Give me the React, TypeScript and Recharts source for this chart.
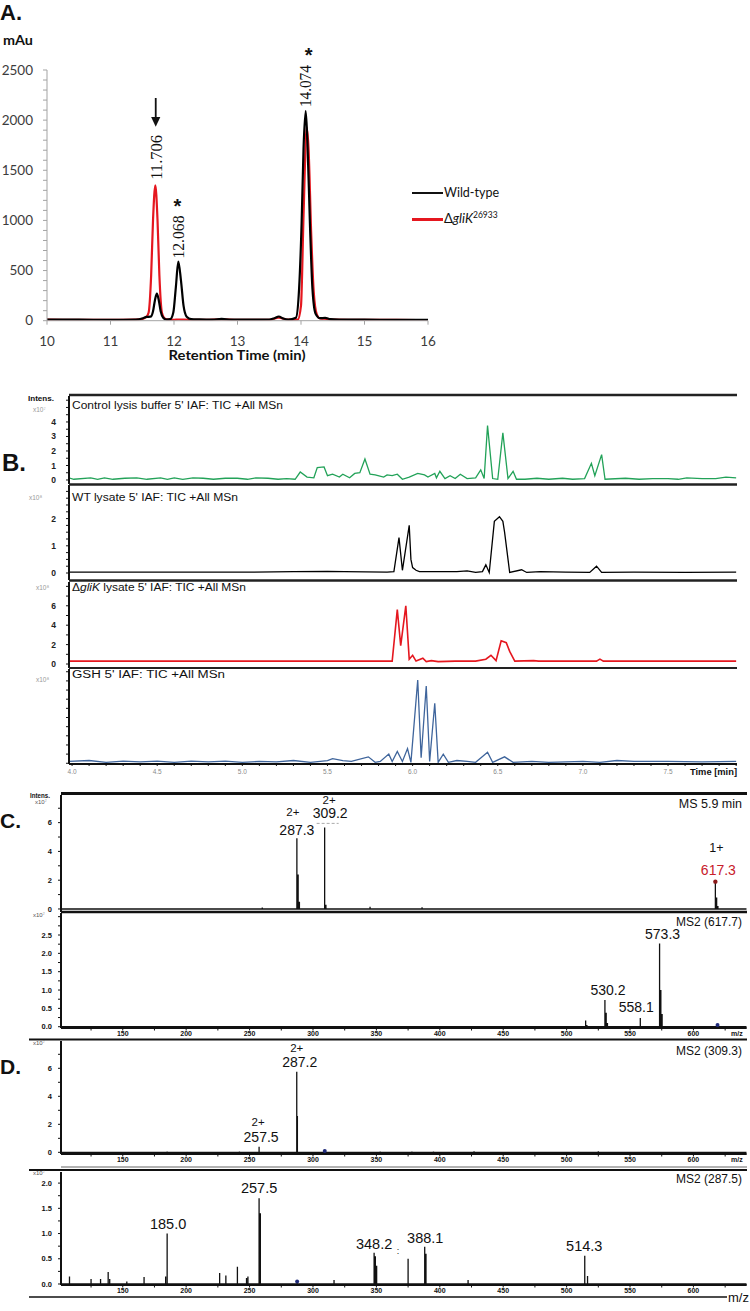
import React from 'react';
import { LineChart, Line, XAxis, YAxis, ReferenceDot, Legend } from 'recharts';

const SANS = '"Liberation Sans", Arial, sans-serif';
const CAL = 'Lato, "Open Sans", sans-serif';
const SERIF = '"Liberation Serif", "Times New Roman", serif';
const RED = '#e5171f';
const GREEN = '#22a258';
const BLUE = '#3f659c';
const INK = '#111';

// A. HPLC trace, mAu vs retention time (min)
const hplcTimeWT = [10.0, 10.5, 11.0, 11.4, 11.5, 11.57, 11.63, 11.67, 11.7, 11.73, 11.76, 11.79, 11.83, 11.88, 11.94, 11.99, 12.03, 12.068, 12.11, 12.15, 12.2, 12.27, 12.4, 12.6, 12.75, 12.9, 13.2, 13.5, 13.58, 13.65, 13.72, 13.8, 13.92, 13.97, 14.01, 14.04, 14.074, 14.1, 14.14, 14.18, 14.23, 14.3, 14.38, 14.46, 14.6, 15.0, 15.5, 16.0];
const hplcWT = [12, 10, 9, 12, 22, 38, 40, 95, 205, 270, 205, 95, 30, 12, 15, 85, 340, 590, 400, 150, 40, 16, 13, 11, 18, 11, 10, 12, 25, 42, 22, 12, 30, 320, 980, 1720, 2090, 1800, 980, 320, 70, 25, 28, 16, 12, 10, 9, 8];
const hplcTimeKO = [10.0, 10.5, 11.0, 11.4, 11.5, 11.56, 11.6, 11.64, 11.67, 11.706, 11.74, 11.77, 11.81, 11.86, 11.92, 12.0, 12.07, 12.15, 12.3, 12.5, 12.75, 13.0, 13.5, 13.65, 13.8, 13.95, 14.0, 14.04, 14.09, 14.12, 14.16, 14.2, 14.25, 14.3, 14.4, 14.5, 15.0, 15.5, 16.0];
const hplcKO = [10, 9, 8, 10, 18, 35, 80, 450, 1010, 1350, 1010, 450, 80, 20, 10, 9, 12, 10, 9, 8, 14, 8, 9, 30, 10, 12, 150, 1050, 1930, 1700, 880, 290, 60, 22, 18, 12, 8, 8, 6];
const hplcXTicks = [10, 11, 12, 13, 14, 15, 16];
const hplcYTicks = [0, 100, 200, 300, 400, 500, 600, 700, 800, 900, 1000, 1100, 1200, 1300, 1400, 1500, 1600, 1700, 1800, 1900, 2000, 2100, 2200, 2300, 2400, 2500];
const hplcYLabels = [0, 500, 1000, 1500, 2000, 2500];

// B. TIC traces, time (min)
const ctrlTime = [3.98, 4.01, 4.11, 4.15, 4.19, 4.24, 4.31, 4.38, 4.44, 4.52, 4.56, 4.6, 4.65, 4.71, 4.77, 4.83, 4.9, 4.97, 5.03, 5.08, 5.15, 5.21, 5.26, 5.31, 5.34, 5.38, 5.42, 5.44, 5.48, 5.5, 5.53, 5.57, 5.59, 5.63, 5.66, 5.69, 5.72, 5.75, 5.78, 5.83, 5.85, 5.88, 5.91, 5.94, 5.98, 6.03, 6.07, 6.09, 6.13, 6.14, 6.16, 6.19, 6.22, 6.25, 6.28, 6.32, 6.37, 6.4, 6.42, 6.44, 6.47, 6.5, 6.53, 6.56, 6.59, 6.61, 6.66, 6.73, 6.8, 6.88, 6.94, 7.01, 7.05, 7.07, 7.11, 7.13, 7.25, 7.33, 7.41, 7.5, 7.56, 7.61, 7.7, 7.78, 7.84, 7.9];
const ctrlTic = [0.15, 0.05, 0.15, 0.05, 0.15, 0.05, 0.12, 0.15, 0.05, 0.15, 0.05, 0.15, 0.05, 0.15, 0.12, 0.05, 0.12, 0.12, 0.05, 0.15, 0.12, 0.05, 0.1, 0.05, 0.55, 0.2, 0.15, 0.85, 0.9, 0.3, 0.4, 0.2, 0.4, 0.15, 0.45, 0.5, 1.45, 0.4, 0.35, 0.2, 0.35, 0.3, 0.4, 0.05, 0.2, 0.45, 0.35, 0.2, 0.45, 0.15, 0.6, 0.1, 0.3, 0.1, 0.4, 0.1, 0.15, 0.7, 0.1, 3.75, 0.1, 0.05, 3.25, 0.1, 0.6, 0.05, 0.05, 0.12, 0.05, 0.12, 0.05, 0.1, 1.15, 0.3, 1.75, 0.05, 0.12, 0.05, 0.1, 0.1, 0.05, 0.15, 0.1, 0.1, 0.2, 0.15];
const wtTime = [3.98, 4.5, 5.0, 5.3, 5.5, 5.6, 5.85, 5.89, 5.92, 5.94, 5.98, 5.99, 6.0, 6.02, 6.04, 6.09, 6.18, 6.26, 6.32, 6.37, 6.41, 6.43, 6.45, 6.48, 6.51, 6.53, 6.54, 6.57, 6.64, 6.67, 6.75, 6.9, 7.04, 7.08, 7.11, 7.3, 7.6, 7.9];
const wtTic = [0.03, 0.03, 0.03, 0.05, 0.06, 0.05, 0.03, 0.05, 1.3, 0.1, 1.75, 0.5, 0.2, 0.1, 0.05, 0.05, 0.05, 0.05, 0.08, 0.02, 0.05, 0.3, 0.02, 1.9, 2.07, 1.9, 1.5, 0.02, 0.12, 0.02, 0.05, 0.03, 0.02, 0.25, 0.02, 0.03, 0.02, 0.03];
const koTime = [3.98, 5.0, 5.85, 5.88, 5.91, 5.93, 5.96, 5.98, 6.0, 6.02, 6.06, 6.08, 6.11, 6.15, 6.25, 6.37, 6.43, 6.46, 6.49, 6.52, 6.55, 6.57, 6.6, 6.71, 6.74, 6.9, 7.08, 7.1, 7.12, 7.5, 7.9];
const koTic = [0.3, 0.3, 0.3, 0.3, 5.6, 1.9, 6.0, 0.5, 0.9, 0.3, 0.6, 0.25, 0.35, 0.25, 0.3, 0.3, 0.5, 0.9, 0.35, 2.4, 2.2, 1.3, 0.3, 0.35, 0.3, 0.3, 0.3, 0.5, 0.3, 0.3, 0.3];
const gshTime = [3.98, 4.1, 4.2, 4.3, 4.4, 4.5, 4.6, 4.7, 4.8, 4.9, 5.0, 5.1, 5.2, 5.3, 5.4, 5.5, 5.53, 5.59, 5.64, 5.74, 5.78, 5.81, 5.86, 5.88, 5.91, 5.94, 5.97, 5.99, 6.03, 6.05, 6.08, 6.1, 6.13, 6.15, 6.18, 6.21, 6.26, 6.32, 6.37, 6.44, 6.47, 6.54, 6.59, 6.7, 6.8, 7.0, 7.1, 7.2, 7.3, 7.5, 7.7, 7.9];
const gshTic = [0.1, 0.15, 0.05, 0.12, 0.08, 0.12, 0.05, 0.12, 0.08, 0.12, 0.05, 0.1, 0.08, 0.15, 0.05, 0.15, 0.25, 0.15, 0.1, 0.35, 0.05, 0.1, 0.5, 0.1, 0.65, 0.1, 0.8, 0.05, 4.55, 0.3, 4.22, 0.1, 3.28, 0.05, 0.5, 0.05, 0.15, 0.1, 0.05, 0.6, 0.05, 0.35, 0.05, 0.1, 0.05, 0.1, 0.05, 0.15, 0.1, 0.1, 0.08, 0.1];
const TIME_DOMAIN = [3.982, 7.905];
const timeTicks = [4.0, 4.1, 4.2, 4.3, 4.4, 4.5, 4.6, 4.7, 4.8, 4.9, 5.0, 5.1, 5.2, 5.3, 5.4, 5.5, 5.6, 5.7, 5.8, 5.9, 6.0, 6.1, 6.2, 6.3, 6.4, 6.5, 6.6, 6.7, 6.8, 6.9, 7.0, 7.1, 7.2, 7.3, 7.4, 7.5, 7.6, 7.7, 7.8, 7.9];
const timeLabels = [4.0, 4.5, 5.0, 5.5, 6.0, 6.5, 7.0, 7.5];

// C/D. mass spectra, m/z vs intensity (x10^7)
const ms59Mz = [260, 287.3, 288.3, 289.3, 309.2, 310.2, 345, 386, 617.3, 618.3, 619.3];
const ms59Int = [0.1, 4.91, 2.4, 0.5, 5.67, 0.3, 0.15, 0.12, 1.9, 0.8, 0.2];
const ms617Mz = [515, 516, 530.2, 531.2, 532.2, 558.1, 573.3, 574.3, 575.3, 619];
const ms617Int = [0.17, 0.05, 0.73, 0.38, 0.1, 0.24, 2.27, 1.0, 0.35, 0.05];
const ms309Mz = [185, 242, 257.5, 287.2, 287.7, 309.3, 353, 378, 395, 427, 525];
const ms309Int = [0.05, 0.05, 0.4, 5.75, 2.6, 0.1, 0.06, 0.05, 0.05, 0.08, 0.08];
const ms287Mz = [108, 125, 132.5, 138.5, 139.7, 153.2, 166.8, 183.8, 185.0, 226.4, 231.3, 240.4, 247.6, 248.7, 257.5, 258.5, 287.5, 316.6, 348.2, 349.2, 350.2, 375, 388.1, 389.1, 422.3, 514.3, 516.5];
const ms287Int = [0.15, 0.1, 0.1, 0.24, 0.1, 0.05, 0.14, 0.15, 1.0, 0.22, 0.17, 0.34, 0.12, 0.15, 1.7, 1.4, 0.05, 0.08, 0.62, 0.55, 0.36, 0.5, 0.74, 0.6, 0.08, 0.56, 0.16];
const MZ_DOMAIN = [101.3, 642];
const mzTicks = [125, 150, 175, 200, 225, 250, 275, 300, 325, 350, 375, 400, 425, 450, 475, 500, 525, 550, 575, 600, 625];
const mzLabels = [150, 200, 250, 300, 350, 400, 450, 500, 550, 600];

const rowsOf = (xs: number[], ys: number[]) => xs.map((t, k) => ({ t, v: ys[k] }));
const sticks = (mz: number[], ints: number[]) => {
  const rows: { mz: number; i: number }[] = [{ mz: MZ_DOMAIN[0], i: 0 }];
  mz.forEach((m, k) => rows.push({ mz: m, i: 0 }, { mz: m, i: ints[k] }, { mz: m, i: 0 }));
  rows.push({ mz: MZ_DOMAIN[1], i: 0 });
  return rows;
};

type Tag = {
  t: React.ReactNode;
  dx: number;
  dy: number;
  size?: number;
  font?: string;
  fill?: string;
  rot?: boolean;
  w?: number;
  bold?: boolean;
};

// label renderer for ReferenceDot: offsets are relative to the dot
const tagLayer = (list: Tag[], extra?: (x: number, y: number) => React.ReactNode) => (props: any) => {
  const vb = props.viewBox || {};
  const x = Number(vb.x ?? 0);
  const y = Number(vb.y ?? 0);
  return (
    <g>
      {list.map((g, k) => {
        const px = x + g.dx;
        const py = y + g.dy;
        return (
          <text
            key={k}
            x={px}
            y={py}
            textAnchor="middle"
            dominantBaseline="central"
            fontSize={g.size ?? 14}
            fontFamily={g.font ?? SANS}
            fontWeight={g.bold ? 'bold' : 'normal'}
            fill={g.fill ?? INK}
            transform={g.rot ? `rotate(-90 ${px} ${py})` : undefined}
            textLength={g.w}
            lengthAdjust={g.w ? 'spacingAndGlyphs' : undefined}
          >
            {g.t}
          </text>
        );
      })}
      {extra ? extra(x, y) : null}
    </g>
  );
};

const note = (x: number, y: number, list: Tag[], extra?: (x: number, y: number) => React.ReactNode) => (
  <ReferenceDot x={x} y={y} r={0} fill="none" stroke="none" ifOverflow="visible" label={tagLayer(list, extra)} />
);

const hplcLegend = () => (
  <div style={{ fontFamily: CAL, fontSize: 12.5, color: INK, lineHeight: '26px' }}>
    <div style={{ display: 'flex', alignItems: 'center', height: 26 }}>
      <span style={{ display: 'inline-block', width: 31, height: 2, background: INK, marginRight: 1 }} />
      <span>Wild-type</span>
    </div>
    <div style={{ display: 'flex', alignItems: 'center', height: 26 }}>
      <span style={{ display: 'inline-block', width: 31, height: 2.5, background: RED, marginRight: 1 }} />
      <span style={{ fontSize: 13 }}>
        Δ<i>gliK</i>
        <span style={{ fontSize: 8.5, position: 'relative', top: -5 }}>26933</span>
      </span>
    </div>
  </div>
);

function PanelA() {
  return (
    <div style={{ position: 'absolute', left: 0, top: 0 }}>
      <LineChart width={560} height={380} margin={{ top: 70, right: 132, bottom: 29.3, left: 7 }}>
        <XAxis
          type="number"
          dataKey="t"
          domain={[10, 16]}
          allowDataOverflow
          ticks={hplcXTicks}
          interval={0}
          height={30}
          tickSize={4}
          tickMargin={12}
          axisLine={{ stroke: '#a3a3a3' }}
          tickLine={{ stroke: '#a3a3a3' }}
          tick={{ fill: '#3c3c3c', fontSize: 13.5, fontFamily: CAL }}
        />
        <YAxis
          type="number"
          domain={[0, 2500]}
          allowDataOverflow
          ticks={hplcYTicks}
          interval={0}
          width={40}
          tickSize={4}
          tickMargin={10}
          axisLine={{ stroke: '#a3a3a3' }}
          tickLine={{ stroke: '#a3a3a3' }}
          tick={{ fill: '#3c3c3c', fontSize: 13.5, fontFamily: CAL }}
          tickFormatter={(v: number) => (hplcYLabels.includes(v) ? String(v) : '')}
        />
        <Legend
          layout="vertical"
          align="center"
          verticalAlign="middle"
          content={hplcLegend}
          wrapperStyle={{ left: 412, top: 180.3, width: 140 }}
        />
        <Line data={rowsOf(hplcTimeKO, hplcKO)} dataKey="v" type="monotone" stroke={RED} strokeWidth={2.2} dot={false} isAnimationActive={false} />
        <Line data={rowsOf(hplcTimeWT, hplcWT)} dataKey="v" type="monotone" stroke="#000" strokeWidth={2.2} dot={false} isAnimationActive={false} />
        {note(11.706, 1350, [{ t: '11.706', dx: 1.4, dy: -28, size: 16, font: SERIF, rot: true, w: 45 }], (x, y) => (
          <g>
            <line x1={x + 0.4} y1={y - 87.3} x2={x + 0.4} y2={y - 66} stroke={INK} strokeWidth={1.8} />
            <polygon points={`${x - 4.2},${y - 68.3} ${x + 5},${y - 68.3} ${x + 0.4},${y - 58.6}`} fill={INK} />
          </g>
        ))}
        {note(12.068, 590, [
          { t: '12.068', dx: 0.1, dy: -24.5, size: 16, font: SERIF, rot: true, w: 43 },
          { t: '*', dx: -1, dy: -55.1, size: 20, bold: true },
        ])}
        {note(14.074, 2090, [
          { t: '14.074', dx: -0.4, dy: -25, size: 16, font: SERIF, rot: true, w: 42 },
          { t: '*', dx: 2.9, dy: -56.4, size: 20, bold: true },
        ])}
      </LineChart>
    </div>
  );
}

function Tic(p: {
  rows: { t: number; v: number }[];
  color: string;
  top: number;
  height: number;
  domain: number[];
  ticks: number[];
  labels: number[];
  timeAxis?: boolean;
  lw?: number;
}) {
  const axisH = p.timeAxis ? 14 : 0;
  return (
    <div style={{ position: 'absolute', left: 0, top: p.top }}>
      <LineChart width={740} height={p.height + axisH + 4} margin={{ top: 0, right: 3, bottom: 4, left: 0 }}>
        <XAxis
          type="number"
          dataKey="t"
          domain={TIME_DOMAIN}
          allowDataOverflow
          ticks={timeTicks}
          interval={0}
          hide={!p.timeAxis}
          height={axisH}
          tickSize={2}
          tickMargin={3}
          axisLine={{ stroke: INK, strokeWidth: 2 }}
          tickLine={{ stroke: INK }}
          tick={{ fontSize: 6.5, fill: '#8a8a8a', fontFamily: SANS }}
          tickFormatter={(v: number) => (timeLabels.includes(v) ? v.toFixed(1) : '')}
        />
        <YAxis
          type="number"
          domain={p.domain}
          allowDataOverflow
          ticks={p.ticks}
          interval={0}
          width={69}
          tickSize={3}
          tickMargin={10}
          axisLine={{ stroke: INK, strokeWidth: 2 }}
          tickLine={{ stroke: INK }}
          tick={{ fontSize: 8.5, fontWeight: 'bold', fill: '#222', fontFamily: SANS }}
          tickFormatter={(v: number) => (p.labels.includes(v) ? String(v) : '')}
        />
        <Line data={p.rows} dataKey="v" type="linear" stroke={p.color} strokeWidth={p.lw ?? 1.3} dot={false} isAnimationActive={false} />
      </LineChart>
    </div>
  );
}

function Spectrum(p: {
  rows: { mz: number; i: number }[];
  top: number;
  height: number;
  domain: number[];
  ticks: number[];
  labels: number[];
  decimals?: number;
  mzAxis?: boolean;
  children?: React.ReactNode;
}) {
  const axisH = p.mzAxis ? 10 : 0;
  return (
    <div style={{ position: 'absolute', left: 0, top: p.top }}>
      <LineChart width={750} height={p.height + axisH + 4} margin={{ top: 0, right: 3.3, bottom: 4, left: 0 }}>
        <XAxis
          type="number"
          dataKey="mz"
          domain={MZ_DOMAIN}
          allowDataOverflow
          ticks={mzTicks}
          interval={0}
          hide={!p.mzAxis}
          height={axisH}
          tickSize={2.5}
          tickMargin={0.5}
          axisLine={{ stroke: INK, strokeWidth: 2 }}
          tickLine={{ stroke: INK }}
          tick={{ fontSize: 7, fontWeight: 'bold', fill: INK, fontFamily: SANS }}
          tickFormatter={(v: number) => (mzLabels.includes(v) ? String(v) : '')}
        />
        <YAxis
          type="number"
          domain={p.domain}
          allowDataOverflow
          ticks={p.ticks}
          interval={0}
          width={61}
          tickSize={3}
          tickMargin={6}
          axisLine={{ stroke: INK, strokeWidth: 2 }}
          tickLine={{ stroke: INK }}
          tick={{ fontSize: 7.5, fontWeight: 'bold', fill: INK, fontFamily: SANS }}
          tickFormatter={(v: number) => (p.labels.includes(v) ? v.toFixed(p.decimals ?? 0) : '')}
        />
        <Line data={p.rows} dataKey="i" type="linear" stroke={INK} strokeWidth={1.3} dot={false} isAnimationActive={false} />
        {p.children}
      </LineChart>
    </div>
  );
}

type Txt = {
  s: React.ReactNode;
  x: number;
  y: number;
  size: number;
  anchor?: 'start' | 'middle' | 'end';
  bold?: boolean;
  fill?: string;
  font?: string;
  w?: number;
};

const frameText: Txt[] = [
  { s: 'A.', x: 0, y: 12, size: 22, bold: true },
  { s: 'mAu', x: 3, y: 39.5, size: 13, bold: true, font: CAL, w: 30 },
  { s: 'Retention Time (min)', x: 237, y: 355, size: 13.5, bold: true, anchor: 'middle', font: CAL, w: 137 },
  { s: 'B.', x: 2, y: 462, size: 24, bold: true },
  { s: 'Intens.', x: 28, y: 398, size: 8, bold: true, w: 26 },
  { s: 'x10⁷', x: 33, y: 409, size: 6.5, fill: '#999' },
  { s: "Control lysis buffer 5' IAF: TIC +All MSn", x: 72, y: 405, size: 10, w: 211 },
  { s: 'x10⁸', x: 29, y: 497, size: 6.5, fill: '#999' },
  { s: "WT lysate 5' IAF: TIC +All MSn", x: 72, y: 497, size: 10, w: 166 },
  { s: 'x10⁸', x: 36, y: 587, size: 6.5, fill: '#999' },
  {
    s: (
      <>
        <tspan>Δ</tspan>
        <tspan fontStyle="italic">gliK</tspan>
        <tspan> lysate 5' IAF: TIC +All MSn</tspan>
      </>
    ),
    x: 72,
    y: 587,
    size: 10,
    w: 174,
  },
  { s: 'x10⁸', x: 36, y: 679, size: 6.5, fill: '#999' },
  { s: "GSH 5' IAF: TIC +All MSn", x: 72, y: 674, size: 10, w: 153 },
  { s: 'Time [min]', x: 737, y: 771.7, size: 9, bold: true, anchor: 'end', w: 47 },
  { s: 'C.', x: 0, y: 820, size: 21, bold: true },
  { s: 'Intens.', x: 30, y: 795, size: 6.5, bold: true, w: 20 },
  { s: 'x10⁷', x: 35, y: 802, size: 6, fill: '#555' },
  { s: 'MS 5.9 min', x: 742, y: 804, size: 12.5, anchor: 'end' },
  { s: 'x10⁷', x: 33, y: 915, size: 6, fill: '#555' },
  { s: 'MS2 (617.7)', x: 742, y: 922, size: 12, anchor: 'end' },
  { s: 'm/z', x: 731, y: 1033.5, size: 7, bold: true },
  { s: 'D.', x: 0, y: 1066.7, size: 21, bold: true },
  { s: 'x10⁷', x: 33, y: 1043, size: 6, fill: '#555' },
  { s: 'MS2 (309.3)', x: 742, y: 1051, size: 12, anchor: 'end' },
  { s: 'm/z', x: 731, y: 1159.5, size: 7, bold: true },
  { s: 'x10⁷', x: 33, y: 1173, size: 6, fill: '#555' },
  { s: 'MS2 (287.5)', x: 742, y: 1179, size: 12, anchor: 'end' },
  { s: 'm/z', x: 728, y: 1297, size: 13 },
];

const frameRules = [
  { x1: 69, x2: 737, y: 395, w: 2.5, c: '#222' },
  { x1: 69, x2: 737, y: 484.5, w: 2.5, c: '#222' },
  { x1: 69, x2: 737, y: 580.5, w: 2.5, c: '#222' },
  { x1: 69, x2: 737, y: 668, w: 2, c: '#222' },
  { x1: 61, x2: 747, y: 793.5, w: 3, c: '#111' },
  { x1: 61, x2: 747, y: 912, w: 2.5, c: '#111' },
  { x1: 29, x2: 747, y: 1039.5, w: 2, c: '#111' },
  { x1: 61, x2: 747, y: 1167, w: 1.5, c: '#999' },
  { x1: 29, x2: 747, y: 1170, w: 2, c: '#111' },
  { x1: 29, x2: 727, y: 1297, w: 1.5, c: '#111' },
];

export default function App() {
  return (
    <div style={{ position: 'absolute', left: 0, top: 0, width: 750, height: 1311, background: '#fff', overflow: 'hidden' }}>
      <PanelA />

      <Tic rows={rowsOf(ctrlTime, ctrlTic)} color={GREEN} top={396} height={88} domain={[-0.276, 5.79]}
        ticks={[0, 0.5, 1, 1.5, 2, 2.5, 3, 3.5, 4, 4.5, 5, 5.5]} labels={[0, 1, 2, 3, 4]} />
      <Tic rows={rowsOf(wtTime, wtTic)} color="#000" top={485} height={95} domain={[-0.257, 3.235]}
        ticks={[0, 0.25, 0.5, 0.75, 1, 1.25, 1.5, 1.75, 2, 2.25, 2.5, 2.75, 3]} labels={[0, 1, 2]} />
      <Tic rows={rowsOf(koTime, koTic)} color={RED} top={582} height={86} domain={[-0.41, 8.45]}
        ticks={[0, 1, 2, 3, 4, 5, 6, 7, 8]} labels={[0, 2, 4, 6]} lw={1.6} />
      <Tic rows={rowsOf(gshTime, gshTic)} color={BLUE} top={669} height={95} domain={[-0.04, 5.15]}
        ticks={[0, 0.5, 1, 1.5, 2, 2.5, 3, 3.5, 4, 4.5, 5]} labels={[]} timeAxis />

      <Spectrum rows={sticks(ms59Mz, ms59Int)} top={795} height={117} domain={[-0.21, 7.92]}
        ticks={[0, 1, 2, 3, 4, 5, 6, 7]} labels={[0, 2, 4, 6]}>
        {note(287.3, 4.91, [
          { t: '2+', dx: -4, dy: -26, size: 11.5 },
          { t: '287.3', dx: 0, dy: -8, size: 14 },
        ])}
        {note(309.2, 5.67, [
          { t: '2+', dx: 4.5, dy: -27, size: 11.5 },
          { t: '309.2', dx: 5.5, dy: -14, size: 14 },
        ], (x, y) => (
          <line x1={x - 8} y1={y - 4} x2={x + 14} y2={y - 4} stroke="#aaa" strokeWidth={1} strokeDasharray="3 2" />
        ))}
        {note(617.3, 1.9, [
          { t: '1+', dx: 1, dy: -34, size: 12.5 },
          { t: '617.3', dx: 3, dy: -12, size: 14, fill: '#c8202a' },
        ])}
        <ReferenceDot x={617.3} y={1.9} r={2.2} fill="#8b1a1a" stroke="none" ifOverflow="visible" />
      </Spectrum>

      <Spectrum rows={sticks(ms617Mz, ms617Int)} top={913} height={115} domain={[-0.035, 3.1]}
        ticks={[0, 0.25, 0.5, 0.75, 1, 1.25, 1.5, 1.75, 2, 2.25, 2.5, 2.75, 3]} labels={[0, 0.5, 1, 1.5, 2, 2.5]} decimals={1} mzAxis>
        {note(573.3, 2.27, [{ t: '573.3', dx: 3, dy: -9, size: 14 }])}
        {note(530.2, 0.73, [{ t: '530.2', dx: 3, dy: -10, size: 14 }])}
        {note(558.1, 0.24, [{ t: '558.1', dx: -4, dy: -11, size: 14 }])}
        <ReferenceDot x={619} y={0.05} r={2} fill="#1f2a7a" stroke="none" ifOverflow="visible" />
      </Spectrum>

      <Spectrum rows={sticks(ms309Mz, ms309Int)} top={1041} height={113} domain={[-0.12, 7.95]}
        ticks={[0, 1, 2, 3, 4, 5, 6, 7]} labels={[0, 2, 4, 6]} mzAxis>
        {note(287.2, 5.75, [
          { t: '2+', dx: 0, dy: -24, size: 11.5 },
          { t: '287.2', dx: 3, dy: -10, size: 14 },
        ])}
        {note(257.5, 0.4, [
          { t: '2+', dx: -1, dy: -24.5, size: 11.5 },
          { t: '257.5', dx: 2, dy: -10, size: 14 },
        ])}
        <ReferenceDot x={309.3} y={0.1} r={2} fill="#1f2a7a" stroke="none" ifOverflow="visible" />
      </Spectrum>

      <Spectrum rows={sticks(ms287Mz, ms287Int)} top={1172} height={113} domain={[-0.02, 2.22]}
        ticks={[0, 0.25, 0.5, 0.75, 1, 1.25, 1.5, 1.75, 2]} labels={[0, 0.5, 1, 1.5, 2]} decimals={1} mzAxis>
        {note(185.0, 1.0, [{ t: '185.0', dx: 1, dy: -10, size: 14.5 }])}
        {note(257.5, 1.7, [{ t: '257.5', dx: 0, dy: -10, size: 14.5 }])}
        {note(348.2, 0.62, [
          { t: '348.2', dx: 0, dy: -9, size: 14.5 },
          { t: ':', dx: 24, dy: -2, size: 9 },
        ])}
        {note(388.1, 0.74, [{ t: '388.1', dx: 0.5, dy: -8.5, size: 14.5 }])}
        {note(514.3, 0.56, [{ t: '514.3', dx: -0.5, dy: -10, size: 14.5 }])}
        <ReferenceDot x={287.5} y={0.05} r={2} fill="#1f2a7a" stroke="none" ifOverflow="visible" />
      </Spectrum>

      <svg width={750} height={1311} style={{ position: 'absolute', left: 0, top: 0, pointerEvents: 'none' }}>
        {frameRules.map((r, k) => (
          <line key={k} x1={r.x1} x2={r.x2} y1={r.y} y2={r.y} stroke={r.c} strokeWidth={r.w} />
        ))}
        {frameText.map((t, k) => (
          <text
            key={k}
            x={t.x}
            y={t.y}
            fontSize={t.size}
            fontFamily={t.font ?? SANS}
            fontWeight={t.bold ? 'bold' : 'normal'}
            fill={t.fill ?? INK}
            textAnchor={t.anchor ?? 'start'}
            dominantBaseline="central"
            textLength={t.w}
            lengthAdjust={t.w ? 'spacingAndGlyphs' : undefined}
          >
            {t.s}
          </text>
        ))}
      </svg>
    </div>
  );
}
